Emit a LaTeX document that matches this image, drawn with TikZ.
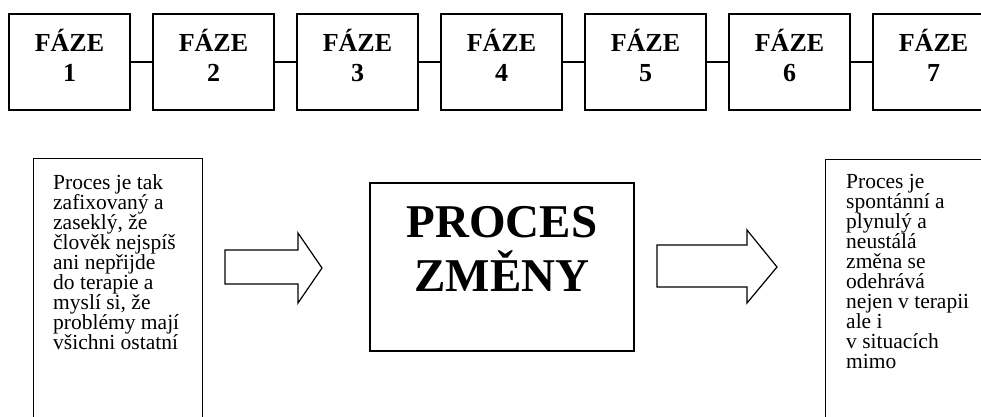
\documentclass[tikz,border=0pt]{standalone}
\usepackage{fontspec}
\setmainfont{Liberation Serif}
\begin{document}
\begin{tikzpicture}[x=1pt,y=-1pt,
  phasebox/.style={draw,line width=1.2pt,minimum width=121pt,minimum height=96pt,inner sep=0pt},
  phasetext/.style={font=\fontsize{26}{30}\selectfont\bfseries,align=center,inner sep=0pt,anchor=north},
  link/.style={line width=1.2pt},
  sidebox/.style={draw,line width=1.2pt,anchor=north west,minimum width=169pt,minimum height=280pt,inner sep=0pt},
  sidetext/.style={font=\fontsize{21.5}{20}\selectfont,align=left,inner sep=0pt,anchor=north west},
  mainbox/.style={draw,line width=1.5pt,minimum width=264pt,minimum height=168pt,inner sep=0pt},
  maintext/.style={font=\fontsize{47}{54}\selectfont\bfseries,align=center,inner sep=0pt,anchor=north},
  blockarrow/.style={draw,line width=1.2pt,line join=miter,fill=white}]
\clip (0,0) rectangle (981,416);
\fill[white] (0,0) rectangle (981,416);
% phases
\foreach \i/\x in {1/69.5,2/213.5,3/357.5,4/501.5,5/645.5,6/789.5,7/933.5}{
  \node[phasebox] (b\i) at (\x,62) {};
  \node[phasetext] (t\i) at (\x,29) {FÁZE\\\i};
}
\foreach \a/\b in {1/2,2/3,3/4,4/5,5/6,6/7}{
  \draw[link] (b\a.east) -- (b\b.west);
}
% left box
\node[sidebox] (lbox) at (33,158) {};
\node[sidetext] (ltext) at (53,174) {Proces je tak\\zafixovaný a\\zaseklý, že\\člověk nejspíš\\ani nepřijde\\do terapie a\\myslí si, že\\problémy mají\\všichni ostatní};
% middle box
\node[mainbox] (proc) at (502,267) {};
\node[maintext] (proctext) at (502,206) {PROCES\\ZMĚNY};
% right box
\node[sidebox] (rbox) at (825,159) {};
\node[sidetext] (rtext) at (846,174) {Proces je\\spontánní a\\plynulý a\\neustálá\\změna se\\odehrává\\nejen v terapii\\ale i\\v situacích\\mimo};
% arrows
\draw[blockarrow] (225,250) -- (298,250) -- (298,233) -- (322,268) -- (298,303) -- (298,284) -- (225,284) -- cycle;
\draw[blockarrow] (657,245) -- (747,245) -- (747,230) -- (777,267) -- (747,303) -- (747,287) -- (657,287) -- cycle;
\end{tikzpicture}
\end{document}
